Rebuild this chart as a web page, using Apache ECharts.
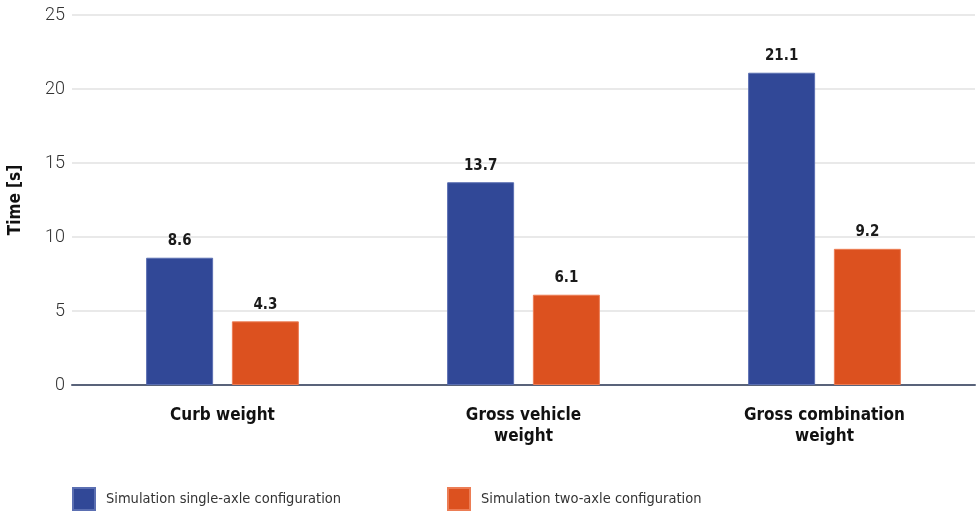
<!DOCTYPE html>
<html>
<head>
<meta charset="utf-8">
<script src="https://cdn.jsdelivr.net/npm/echarts@6/dist/echarts.min.js"></script>
<style>
  html, body { margin: 0; padding: 0; background: #fff; }
  #chart { width: 978px; height: 514px; }
</style>
</head>
<body>
<div id="chart"></div>
<script>
const categories = ['Curb weight', 'Gross vehicle\nweight', 'Gross combination\nweight'];
const seriesNames = ['Simulation single-axle configuration', 'Simulation two-axle configuration'];
const singleAxle = [8.6, 13.7, 21.1];
const twoAxle = [4.3, 6.1, 9.2];
const yTicks = { min: 0, max: 25, interval: 5 };

// condensed faces are picked through font-stretch in the canvas font string
const COND = 'condensed';
const SANS = '"DejaVu Sans", sans-serif';
const BLUE = '#314897';
const ORANGE = '#dc511f';

const chart = echarts.init(document.getElementById('chart'), null, { renderer: 'canvas' });

const valueLabel = {
  show: true,
  position: 'top',
  distance: 9,
  fontFamily: SANS,
  fontStyle: COND,
  fontWeight: 'bold',
  fontSize: 15,
  color: '#1a1a1a'
};

const legendText = { fontFamily: SANS, fontStyle: COND, fontSize: 14.5, color: '#333', padding: [0, 0, 0, 6] };

chart.setOption({
  animation: false,
  backgroundColor: '#ffffff',
  grid: { left: 72, right: 3, top: 15, bottom: 129, containLabel: false, outerBoundsMode: 'none' },
  legend: [
    {
      data: [seriesNames[0]], left: 72, top: 487, padding: 0,
      itemWidth: 22, itemHeight: 22, icon: 'rect',
      textStyle: legendText
    },
    {
      data: [seriesNames[1]], left: 447, top: 487, padding: 0,
      itemWidth: 22, itemHeight: 22, icon: 'rect',
      textStyle: legendText
    }
  ],
  xAxis: {
    type: 'category',
    data: categories,
    axisLine: { show: true, lineStyle: { color: '#59637a', width: 2 } },
    axisTick: { show: false },
    axisLabel: {
      margin: 20,
      fontFamily: SANS,
      fontStyle: COND,
      fontWeight: 'bold',
      fontSize: 17,
      lineHeight: 21,
      color: '#111',
      interval: 0
    }
  },
  yAxis: {
    type: 'value',
    min: yTicks.min, max: yTicks.max, interval: yTicks.interval,
    name: 'Time [s]',
    nameLocation: 'middle',
    nameGap: 48,
    nameRotate: 90,
    nameTextStyle: { fontFamily: SANS, fontStyle: COND, fontWeight: 'bold', fontSize: 17, color: '#111' },
    axisLine: { show: false },
    axisTick: { show: false },
    axisLabel: { margin: 7, fontFamily: 'Roboto, "Noto Sans", sans-serif', fontWeight: 300, fontSize: 18, color: '#333' },
    splitLine: { lineStyle: { color: '#e2e2e2', width: 1.5 } }
  },
  series: [
    {
      name: seriesNames[0], type: 'bar', data: singleAxle,
      barWidth: 67, barGap: '28%',
      itemStyle: { color: BLUE, borderColor: '#5b6fb2', borderWidth: 1 },
      label: valueLabel
    },
    {
      name: seriesNames[1], type: 'bar', data: twoAxle,
      barWidth: 67, barGap: '28%',
      itemStyle: { color: ORANGE, borderColor: '#ec7d55', borderWidth: 1 },
      label: valueLabel
    }
  ]
});
</script>
</body>
</html>
